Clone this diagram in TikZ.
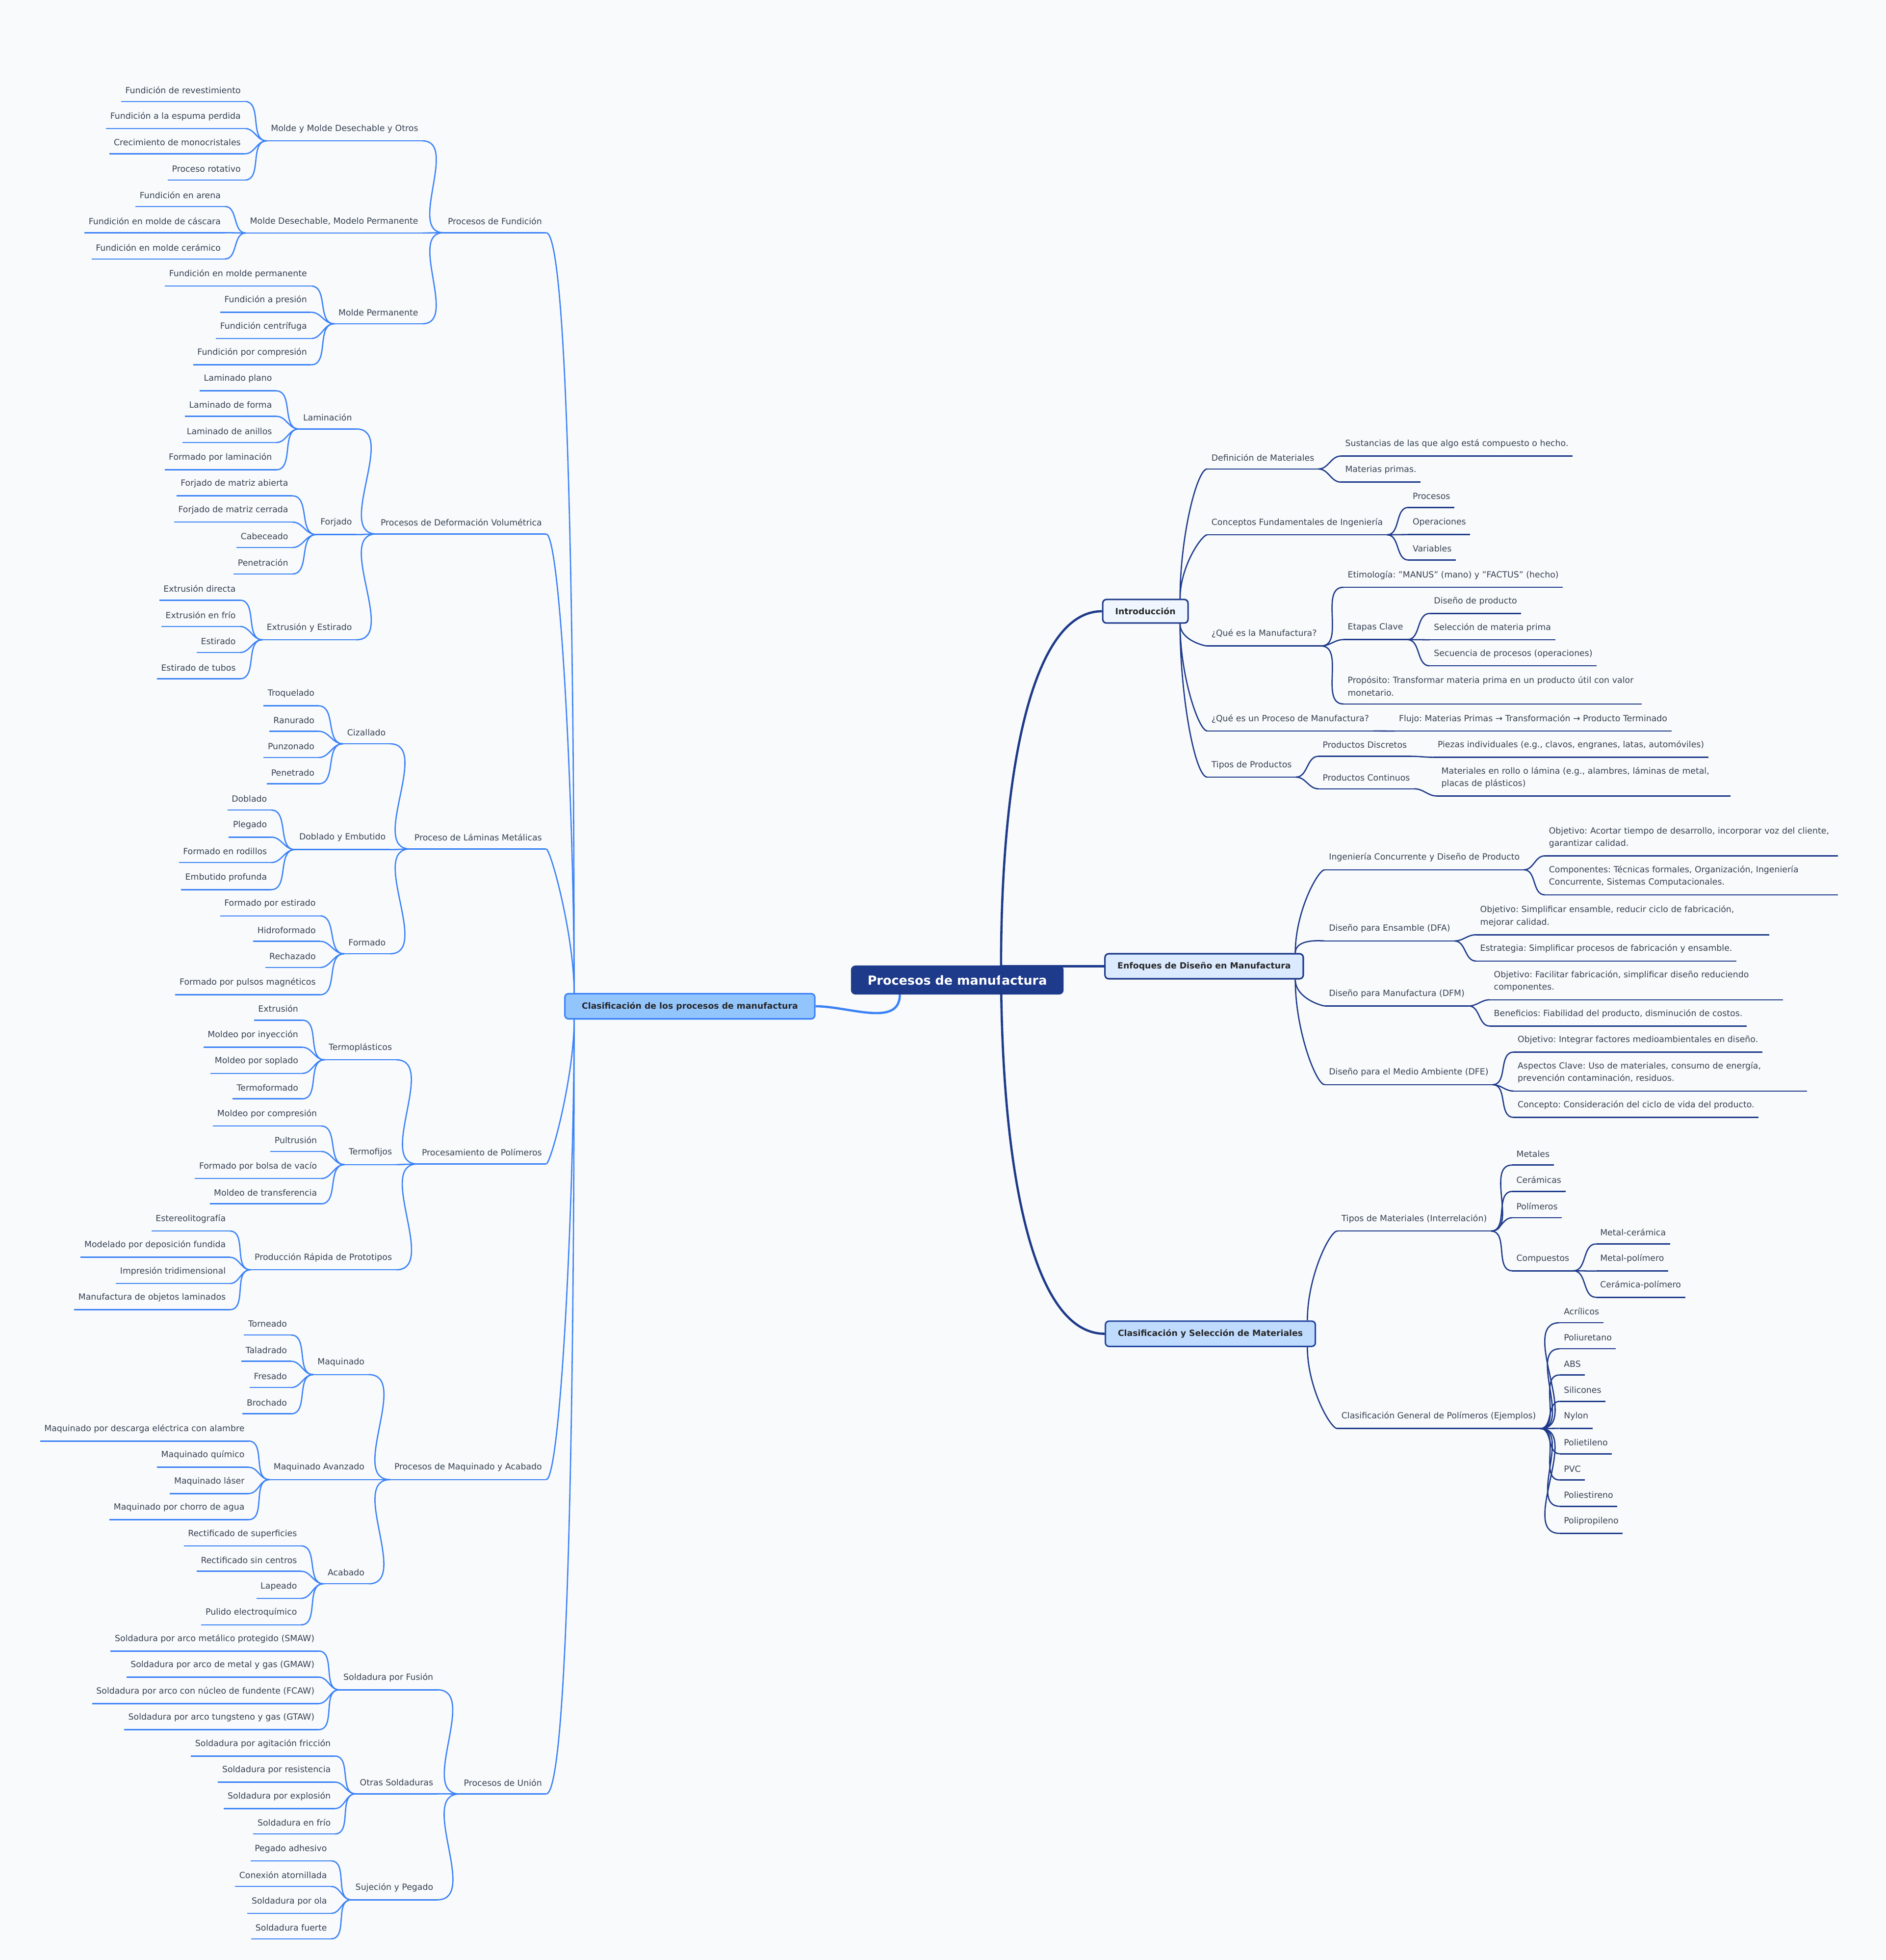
\documentclass[tikz,border=0pt]{standalone}
\usepackage{fontspec}
\setmainfont{DejaVu Sans}
\usepackage{tikz}
\usetikzlibrary{positioning,calc}
\definecolor{bgc}{HTML}{F8FAFC}
\definecolor{txt}{HTML}{374151}
\definecolor{navy}{HTML}{1E3A8A}
\definecolor{blu}{HTML}{3B82F6}
\definecolor{pale}{HTML}{EFF6FF}
\definecolor{light}{HTML}{DBEAFE}
\definecolor{mid}{HTML}{BFDBFE}
\definecolor{sky}{HTML}{93C5FD}
\frenchspacing
\newcommand{\fs}{\fontsize{3.4pt}{5pt}\selectfont\hyphenpenalty=10000}
\tikzset{lf/.style={font=\fs, text=txt, inner xsep=1.5pt, inner ysep=3pt, align=left}}
\tikzset{ll/.style={lf, anchor=east, append after command={(\tikzlastnode.south west) edge[lkl] (\tikzlastnode.south east)}}}
\tikzset{lr/.style={lf, anchor=west, append after command={(\tikzlastnode.south west) edge[lkr] (\tikzlastnode.south east)}}}
\tikzset{lkl/.style={draw=blu, line width=0.5pt}}
\tikzset{lkr/.style={draw=navy, line width=0.5pt}}
\tikzset{box/.style={draw, rounded corners=1.5pt, line width=0.6pt, font=\fs\bfseries, text=black!85, minimum height=8.5pt, inner xsep=5pt}}
\tikzset{drop/.style={out looseness=0.08, in looseness=1}}
\tikzset{turn/.style={out looseness=1.2, in looseness=0.2}}

\begin{document}
\begin{tikzpicture}[x=0.5pt, y=-0.5pt]
        \fill [bgc] (0,0) rectangle (1509,1568);
        \node [box, fill=navy, draw=navy, text=white, font=\fontsize{5pt}{6pt}\selectfont\bfseries, minimum width=84.5pt, minimum height=11pt] (root) at (766,784) {Procesos de manufactura};
        \node [box, fill=sky, draw=blu, minimum width=100pt] (clas) at (552,805) {Clasificación de los procesos de manufactura};
        \node [box, fill=pale, draw=navy] (intro) at (916.5,489) {Introducción};
        \node [box, fill=light, draw=navy] (enf)   at (963.5,773) {Enfoques de Diseño en Manufactura};
        \node [box, fill=mid, draw=navy!80!blu] (mat)   at (968.5,1067) {Clasificación y Selección de Materiales};
        \coordinate (rj) at (801,773);
        \draw [navy, line width=0.9pt] (rj) to[out=90, in=180, out looseness=1.3, in looseness=0.5] (intro.west);
        \draw [navy, line width=0.9pt] (rj) -- (enf.west);
        \draw [navy, line width=0.9pt] (rj) to[out=-90, in=180, out looseness=1.3, in looseness=0.5] (mat.west);
        \draw [blu, line width=0.9pt] (root.south) ++(-46,0) to[out=-90, in=0] (clas.east);
        %
        % Procesos de Fundición
        \node [ll] (fun)   at (437,177) {Procesos de Fundición};
        \node [ll] (fun1)  at (338,103) {Molde y Molde Desechable y Otros};
        \node [ll] (fun1a) at (196,72)  {Fundición de revestimiento};
        \node [ll] (fun1b) at (196,93)  {Fundición a la espuma perdida};
        \node [ll] (fun1c) at (196,114) {Crecimiento de monocristales};
        \node [ll] (fun1d) at (196,135) {Proceso rotativo};
        \node [ll] (fun2)  at (338,177) {Molde Desechable, Modelo Permanente};
        \node [ll] (fun2a) at (180,156) {Fundición en arena};
        \node [ll] (fun2b) at (180,177) {Fundición en molde de cáscara};
        \node [ll] (fun2c) at (180,198) {Fundición en molde cerámico};
        \node [ll] (fun3)  at (338,250) {Molde Permanente};
        \node [ll] (fun3a) at (249,219) {Fundición en molde permanente};
        \node [ll] (fun3b) at (249,240) {Fundición a presión};
        \node [ll] (fun3c) at (249,261) {Fundición centrífuga};
        \node [ll] (fun3d) at (249,282) {Fundición por compresión};
        % Deformación
        \node [ll] (def)   at (437,418) {Procesos de Deformación Volumétrica};
        \node [ll] (def1)  at (285,334) {Laminación};
        \node [ll] (def1a) at (221,303) {Laminado plano};
        \node [ll] (def1b) at (221,324) {Laminado de forma};
        \node [ll] (def1c) at (221,345) {Laminado de anillos};
        \node [ll] (def1d) at (221,366) {Formado por laminación};
        \node [ll] (def2)  at (285,418) {Forjado};
        \node [ll] (def2a) at (234,387) {Forjado de matriz abierta};
        \node [ll] (def2b) at (234,408) {Forjado de matriz cerrada};
        \node [ll] (def2c) at (234,429) {Cabeceado};
        \node [ll] (def2d) at (234,450) {Penetración};
        \node [ll] (def3)  at (285,502) {Extrusión y Estirado};
        \node [ll] (def3a) at (192,471) {Extrusión directa};
        \node [ll] (def3b) at (192,492) {Extrusión en frío};
        \node [ll] (def3c) at (192,513) {Estirado};
        \node [ll] (def3d) at (192,534) {Estirado de tubos};
        % Láminas
        \node [ll] (lam)   at (437,670) {Proceso de Láminas Metálicas};
        \node [ll] (lam1)  at (312,586) {Cizallado};
        \node [ll] (lam1a) at (255,555) {Troquelado};
        \node [ll] (lam1b) at (255,576) {Ranurado};
        \node [ll] (lam1c) at (255,597) {Punzonado};
        \node [ll] (lam1d) at (255,618) {Penetrado};
        \node [ll] (lam2)  at (312,670) {Doblado y Embutido};
        \node [ll] (lam2a) at (217,639) {Doblado};
        \node [ll] (lam2b) at (217,660) {Plegado};
        \node [ll] (lam2c) at (217,681) {Formado en rodillos};
        \node [ll] (lam2d) at (217,702) {Embutido profunda};
        \node [ll] (lam3)  at (312,754) {Formado};
        \node [ll] (lam3a) at (256,723) {Formado por estirado};
        \node [ll] (lam3b) at (256,744) {Hidroformado};
        \node [ll] (lam3c) at (256,765) {Rechazado};
        \node [ll] (lam3d) at (256,786) {Formado por pulsos magnéticos};
        % Polímeros
        \node [ll] (pol)   at (437,922) {Procesamiento de Polímeros};
        \node [ll] (pol1)  at (317,838) {Termoplásticos};
        \node [ll] (pol1a) at (242,807) {Extrusión};
        \node [ll] (pol1b) at (242,828) {Moldeo por inyección};
        \node [ll] (pol1c) at (242,849) {Moldeo por soplado};
        \node [ll] (pol1d) at (242,870) {Termoformado};
        \node [ll] (pol2)  at (317,922) {Termofijos};
        \node [ll] (pol2a) at (257,891) {Moldeo por compresión};
        \node [ll] (pol2b) at (257,912) {Pultrusión};
        \node [ll] (pol2c) at (257,933) {Formado por bolsa de vacío};
        \node [ll] (pol2d) at (257,954) {Moldeo de transferencia};
        \node [ll] (pol3)  at (317,1006) {Producción Rápida de Prototipos};
        \node [ll] (pol3a) at (184,975)  {Estereolitografía};
        \node [ll] (pol3b) at (184,996)  {Modelado por deposición fundida};
        \node [ll] (pol3c) at (184,1017) {Impresión tridimensional};
        \node [ll] (pol3d) at (184,1038) {Manufactura de objetos laminados};
        % Maquinado
        \node [ll] (maq)   at (437,1174) {Procesos de Maquinado y Acabado};
        \node [ll] (maq1)  at (295,1090) {Maquinado};
        \node [ll] (maq1a) at (233,1059) {Torneado};
        \node [ll] (maq1b) at (233,1080) {Taladrado};
        \node [ll] (maq1c) at (233,1101) {Fresado};
        \node [ll] (maq1d) at (233,1122) {Brochado};
        \node [ll] (maq2)  at (295,1174) {Maquinado Avanzado};
        \node [ll] (maq2a) at (199,1143) {Maquinado por descarga eléctrica con alambre};
        \node [ll] (maq2b) at (199,1164) {Maquinado químico};
        \node [ll] (maq2c) at (199,1185) {Maquinado láser};
        \node [ll] (maq2d) at (199,1206) {Maquinado por chorro de agua};
        \node [ll] (maq3)  at (295,1258) {Acabado};
        \node [ll] (maq3a) at (241,1227) {Rectificado de superficies};
        \node [ll] (maq3b) at (241,1248) {Rectificado sin centros};
        \node [ll] (maq3c) at (241,1269) {Lapeado};
        \node [ll] (maq3d) at (241,1290) {Pulido electroquímico};
        % Unión
        \node [ll] (uni)   at (437,1426) {Procesos de Unión};
        \node [ll] (uni1)  at (350,1342) {Soldadura por Fusión};
        \node [ll] (uni1a) at (255,1311) {Soldadura por arco metálico protegido (SMAW)};
        \node [ll] (uni1b) at (255,1332) {Soldadura por arco de metal y gas (GMAW)};
        \node [ll] (uni1c) at (255,1353) {Soldadura por arco con núcleo de fundente (FCAW)};
        \node [ll] (uni1d) at (255,1374) {Soldadura por arco tungsteno y gas (GTAW)};
        \node [ll] (uni2)  at (350,1426) {Otras Soldaduras};
        \node [ll] (uni2a) at (268,1395) {Soldadura por agitación fricción};
        \node [ll] (uni2b) at (268,1416) {Soldadura por resistencia};
        \node [ll] (uni2c) at (268,1437) {Soldadura por explosión};
        \node [ll] (uni2d) at (268,1458) {Soldadura en frío};
        \node [ll] (uni3)  at (350,1510) {Sujeción y Pegado};
        \node [ll] (uni3a) at (265,1479) {Pegado adhesivo};
        \node [ll] (uni3b) at (265,1500) {Conexión atornillada};
        \node [ll] (uni3c) at (265,1521) {Soldadura por ola};
        \node [ll] (uni3d) at (265,1542) {Soldadura fuerte};
        %
        \foreach \p in {fun,def,lam}
            \draw [lkl] (\p.south east) to[out=0, in=90, drop] ($(clas.north west)+(8,0)$);
        \foreach \p in {pol,maq,uni}
            \draw [lkl] (\p.south east) to[out=0, in=-90, drop] ($(clas.south west)+(8,0)$);
        \foreach \p in {fun,def,lam,pol,maq,uni}
            \foreach \c in {1,2,3}{
                \draw [lkl] (\p\c.south east) to[out=0, in=180] (\p.south west);
                \foreach \l in {a,b,c,d}{
                    \ifcsname pgf@sh@ns@\p\c\l\endcsname
                        \draw [lkl] (\p\c\l.south east) to[out=0, in=180] (\p\c.south west);
                    \fi}
            }
        %
        % Introducción
        \node [lr] (dma)    at (966,366)  {Definición de Materiales};
        \node [lr] (dmaa)   at (1073,355) {Sustancias de las que algo está compuesto o hecho.};
        \node [lr] (dmab)   at (1073,376) {Materias primas.};
        \node [lr] (con)    at (966,418)  {Conceptos Fundamentales de Ingeniería};
        \node [lr] (cona)   at (1127,397) {Procesos};
        \node [lr] (conb)   at (1127,418) {Operaciones};
        \node [lr] (conc)   at (1127,439) {Variables};
        \node [lr] (que)    at (966,507)  {¿Qué es la Manufactura?};
        \node [lr] (quea)   at (1075,460) {Etimología: "MANUS" (mano) y "FACTUS" (hecho)};
        \node [lr] (queb)   at (1075,502) {Etapas Clave};
        \node [lr] (queb1)  at (1144,481) {Diseño de producto};
        \node [lr] (queb2)  at (1144,502) {Selección de materia prima};
        \node [lr] (queb3)  at (1144,523) {Secuencia de procesos (operaciones)};
        \node [lr, text width=116pt] (quec) at (1075,549) {Propósito: Transformar materia prima en un producto útil con valor monetario.};
        \node [lr] (pro)    at (966,575)  {¿Qué es un Proceso de Manufactura?};
        \node [lr] (proa)   at (1116,575) {Flujo: Materias Primas → Transformación → Producto Terminado};
        \node [lr] (tip)    at (966,612)  {Tipos de Productos};
        \node [lr] (tipa)   at (1055,596) {Productos Discretos};
        \node [lr] (tipa1)  at (1147,596) {Piezas individuales (e.g., clavos, engranes, latas, automóviles)};
        \node [lr] (tipb)   at (1055,622) {Productos Continuos};
        \node [lr, text width=114pt] (tipb1) at (1150,622) {Materiales en rollo o lámina (e.g., alambres, láminas de metal, placas de plásticos)};
        %
        \foreach \c in {dma,con}
            \draw [lkr] ($(intro.north east)+(-7,0)$) to[out=90, in=180, turn] (\c.south west);
        \foreach \c in {que,pro,tip}
            \draw [lkr] ($(intro.south east)+(-7,0)$) to[out=-90, in=180, turn] (\c.south west);
        \foreach \p/\c in {dma/dmaa,dma/dmab,con/cona,con/conb,con/conc,que/quea,que/queb,que/quec,queb/queb1,queb/queb2,queb/queb3,pro/proa,tip/tipa,tip/tipb,tipa/tipa1,tipb/tipb1}
            \draw [lkr] (\p.south east) to[out=0, in=180] (\c.south west);
        %
        % Enfoques
        \node [lr] (ing)    at (1060,686) {Ingeniería Concurrente y Diseño de Producto};
        \node [lr, text width=114pt] (inga) at (1236,670) {Objetivo: Acortar tiempo de desarrollo, incorporar voz del cliente, garantizar calidad.};
        \node [lr, text width=114pt] (ingb) at (1236,701) {Componentes: Técnicas formales, Organización, Ingeniería Concurrente, Sistemas Computacionales.};
        \node [lr] (dfa)    at (1060,743) {Diseño para Ensamble (DFA)};
        \node [lr, text width=114pt] (dfaa) at (1181,733) {Objetivo: Simplificar ensamble, reducir ciclo de fabricación, mejorar calidad.};
        \node [lr] (dfab)   at (1181,759) {Estrategia: Simplificar procesos de fabricación y ensamble.};
        \node [lr] (dfm)    at (1060,795) {Diseño para Manufactura (DFM)};
        \node [lr, text width=114pt] (dfma) at (1192,785) {Objetivo: Facilitar fabricación, simplificar diseño reduciendo componentes.};
        \node [lr] (dfmb)   at (1192,811) {Beneficios: Fiabilidad del producto, disminución de costos.};
        \node [lr] (dfe)    at (1060,858) {Diseño para el Medio Ambiente (DFE)};
        \node [lr] (dfea)   at (1211,832) {Objetivo: Integrar factores medioambientales en diseño.};
        \node [lr, text width=114pt] (dfeb) at (1211,858) {Aspectos Clave: Uso de materiales, consumo de energía, prevención contaminación, residuos.};
        \node [lr] (dfec)   at (1211,884) {Concepto: Consideración del ciclo de vida del producto.};
        %
        \foreach \c in {ing,dfa}
            \draw [lkr] ($(enf.north east)+(-7,0)$) to[out=90, in=180, turn] (\c.south west);
        \foreach \c in {dfm,dfe}
            \draw [lkr] ($(enf.south east)+(-7,0)$) to[out=-90, in=180, turn] (\c.south west);
        \foreach \p/\c in {ing/inga,ing/ingb,dfa/dfaa,dfa/dfab,dfm/dfma,dfm/dfmb,dfe/dfea,dfe/dfeb,dfe/dfec}
            \draw [lkr] (\p.south east) to[out=0, in=180] (\c.south west);
        %
        % Materiales
        \node [lr] (tma)    at (1070,975)  {Tipos de Materiales (Interrelación)};
        \node [lr] (tmaa)   at (1210,923)  {Metales};
        \node [lr] (tmab)   at (1210,944)  {Cerámicas};
        \node [lr] (tmac)   at (1210,965)  {Polímeros};
        \node [lr] (tmad)   at (1210,1007) {Compuestos};
        \node [lr] (tmad1)  at (1277,986)  {Metal-cerámica};
        \node [lr] (tmad2)  at (1277,1007) {Metal-polímero};
        \node [lr] (tmad3)  at (1277,1028) {Cerámica-polímero};
        \node [lr] (cgp)    at (1070,1133) {Clasificación General de Polímeros (Ejemplos)};
        \node [lr] (cgp1)   at (1248,1049) {Acrílicos};
        \node [lr] (cgp2)   at (1248,1070) {Poliuretano};
        \node [lr] (cgp3)   at (1248,1091) {ABS};
        \node [lr] (cgp4)   at (1248,1112) {Silicones};
        \node [lr] (cgp5)   at (1248,1133) {Nylon};
        \node [lr] (cgp6)   at (1248,1154) {Polietileno};
        \node [lr] (cgp7)   at (1248,1175) {PVC};
        \node [lr] (cgp8)   at (1248,1196) {Poliestireno};
        \node [lr] (cgp9)   at (1248,1217) {Polipropileno};
        %
        \draw [lkr] ($(mat.north east)+(-7,0)$) to[out=90, in=180, turn] (tma.south west);
        \draw [lkr] ($(mat.south east)+(-7,0)$) to[out=-90, in=180, turn] (cgp.south west);
        \foreach \p/\c in {tma/tmaa,tma/tmab,tma/tmac,tma/tmad,tmad/tmad1,tmad/tmad2,tmad/tmad3}
            \draw [lkr] (\p.south east) to[out=0, in=180] (\c.south west);
        \foreach \i in {1,...,9}
            \draw [lkr] (cgp.south east) to[out=0, in=180] (cgp\i.south west);
\end{tikzpicture}
\end{document}
